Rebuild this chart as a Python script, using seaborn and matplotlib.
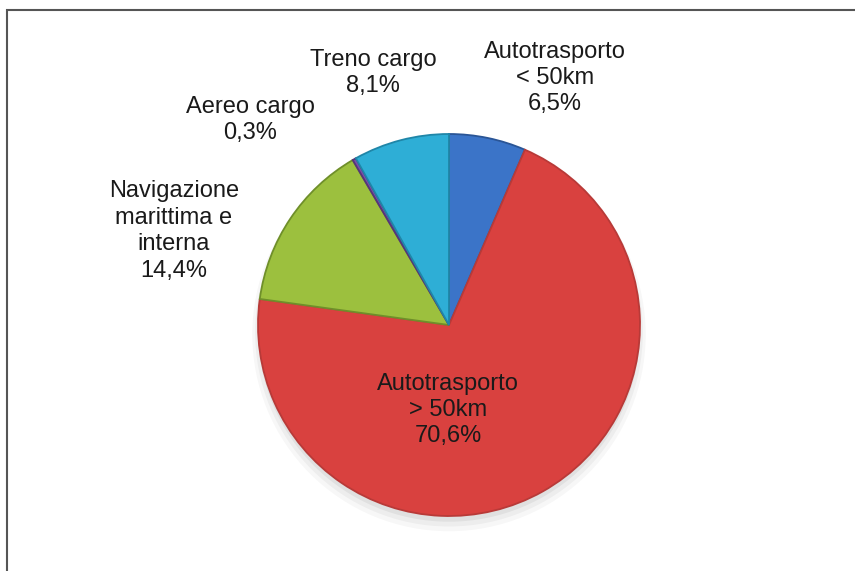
import matplotlib
matplotlib.use("Agg")
import matplotlib.pyplot as plt
import matplotlib.patches as mpatches
import seaborn as sns

sns.set_theme(style="white")
plt.rcParams["font.family"] = ["Liberation Sans", "DejaVu Sans"]

# Freight transport modal shares (%)
categories = ["Autotrasporto\n< 50km", "Autotrasporto\n> 50km", "Navigazione\nmarittima e\ninterna",
              "Aereo cargo", "Treno cargo"]
shares = [6.5, 70.6, 14.4, 0.3, 8.1]
share_labels = ["6,5%", "70,6%", "14,4%", "0,3%", "8,1%"]
colors = ["#3b74c8", "#d9413f", "#9cc03e", "#7a4fa8", "#2eaed6"]
edge_colors = ["#2a5596", "#b83a38", "#6f8f2a", "#55357a", "#1f86a8"]

W, H = 855, 571
fig = plt.figure(figsize=(W / 100, H / 100), dpi=100)
ax = fig.add_axes([0, 0, 1, 1])

# pixel-based frame: pie centre at (449, 325), radius 191 px
cx, cy, R = 449, 325, 191

# soft drop shadow under the pie
for i, a in enumerate([0.05, 0.04, 0.03]):
    ax.add_patch(mpatches.Circle((0.0, -0.03 - 0.01 * i), 1.0 + 0.015 * i,
                                 color="black", alpha=a, lw=0, zorder=0))

wedges, _ = ax.pie(shares, colors=colors, startangle=90, counterclock=False,
                   radius=1.0, center=(0, 0),
                   wedgeprops=dict(linewidth=1.3, zorder=2))
for w, ec in zip(wedges, edge_colors):
    w.set_edgecolor(ec)

ax.set_xlim((0 - cx) / R, (W - cx) / R)
ax.set_ylim((cy - H) / R, (cy - 0) / R)
ax.set_aspect("equal")
ax.axis("off")

# label positions in pixel coordinates
label_pos = [(555, 78), (448, 410), (174, 231), (250, 120), (373, 73)]
for name, pct, (px, py) in zip(categories, share_labels, label_pos):
    ax.text((px - cx) / R, (cy - py) / R, f"{name}\n{pct}", ha="center", va="center",
            fontsize=17, color="#1a1a1a", linespacing=1.26, zorder=5)

# chart frame
ax.add_patch(mpatches.Rectangle(((7 - cx) / R, (cy - 700) / R), (900 - 7) / R, (700 - 10) / R,
                                fill=False, edgecolor="#555555", lw=1.5, zorder=6,
                                clip_on=False))

fig.savefig("out.png", dpi=100)
